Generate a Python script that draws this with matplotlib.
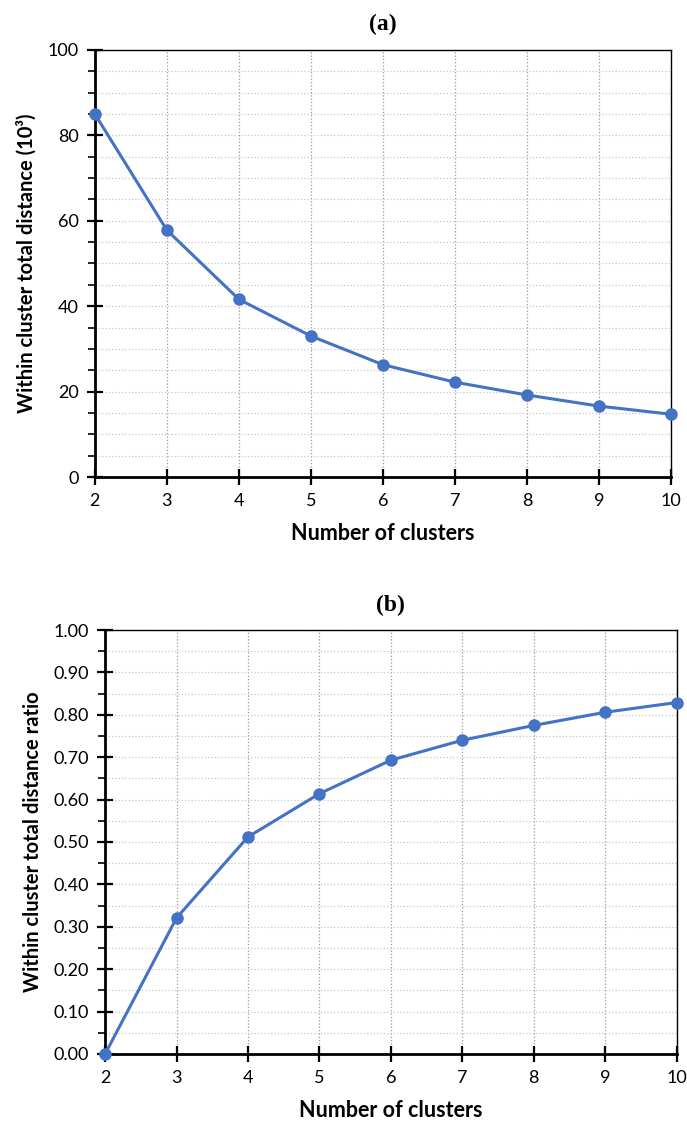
import matplotlib.pyplot as plt
from matplotlib.ticker import MultipleLocator, FormatStrFormatter

clusters = [2, 3, 4, 5, 6, 7, 8, 9, 10]
total_distance = [85.0, 57.8, 41.6, 33.0, 26.3, 22.2, 19.2, 16.6, 14.7]
distance_ratio = [0.0, 0.321, 0.512, 0.614, 0.693, 0.740, 0.775, 0.806, 0.829]

blue = '#4472C4'
label_font = ['Lato', 'DejaVu Sans']
title_font = ['Liberation Serif', 'DejaVu Serif']

fig = plt.figure(figsize=(6.87, 11.24), dpi=100)
ax1 = fig.add_axes([0.138, 0.5756, 0.839, 0.380])
ax2 = fig.add_axes([0.153, 0.0623, 0.832, 0.3772])


def style_axis(ax, ymax, ymaj, ymin, fmt):
	ax.set_xlim(2, 10)
	ax.set_ylim(0, ymax)
	ax.xaxis.set_major_locator(MultipleLocator(1))
	ax.yaxis.set_major_locator(MultipleLocator(ymaj))
	ax.yaxis.set_minor_locator(MultipleLocator(ymin))
	ax.yaxis.set_major_formatter(FormatStrFormatter(fmt))
	ax.grid(axis='x', which='major', color='#9a9a9a', linestyle=':', linewidth=0.9)
	ax.grid(axis='y', which='both', color='#c8c8c8', linestyle=':', linewidth=0.9)
	ax.set_axisbelow(True)
	for side in ['left', 'bottom']:
		ax.spines[side].set_linewidth(2.0)
	for side in ['top', 'right']:
		ax.spines[side].set_linewidth(1.0)
	ax.tick_params(axis='both', which='major', direction='inout', length=11, width=1.6, labelsize=13, pad=6)
	ax.tick_params(axis='y', which='minor', direction='out', length=5, width=1.2)
	for lab in ax.get_xticklabels() + ax.get_yticklabels():
		lab.set_family(label_font)
	ax.set_xlabel('Number of clusters', fontsize=15.5, fontweight='bold', family=label_font, labelpad=10)


ax1.plot(clusters, total_distance, color=blue, linewidth=2.2, marker='o', markersize=8, clip_on=False, zorder=5)
style_axis(ax1, 100, 20, 5, '%d')
ax1.set_ylabel('Within cluster total distance (10³)', fontsize=14.5, fontweight='bold', family=label_font, labelpad=8)
ax1.set_title('(a)', fontsize=17, fontweight='bold', family=title_font, pad=14)

ax2.plot(clusters, distance_ratio, color=blue, linewidth=2.2, marker='o', markersize=8, clip_on=False, zorder=5)
style_axis(ax2, 1.0, 0.1, 0.05, '%.2f')
ax2.set_ylabel('Within cluster total distance ratio', fontsize=14.5, fontweight='bold', family=label_font, labelpad=8)
ax2.set_title('(b)', fontsize=17, fontweight='bold', family=title_font, pad=14)

fig.savefig('out.png', dpi=100)
